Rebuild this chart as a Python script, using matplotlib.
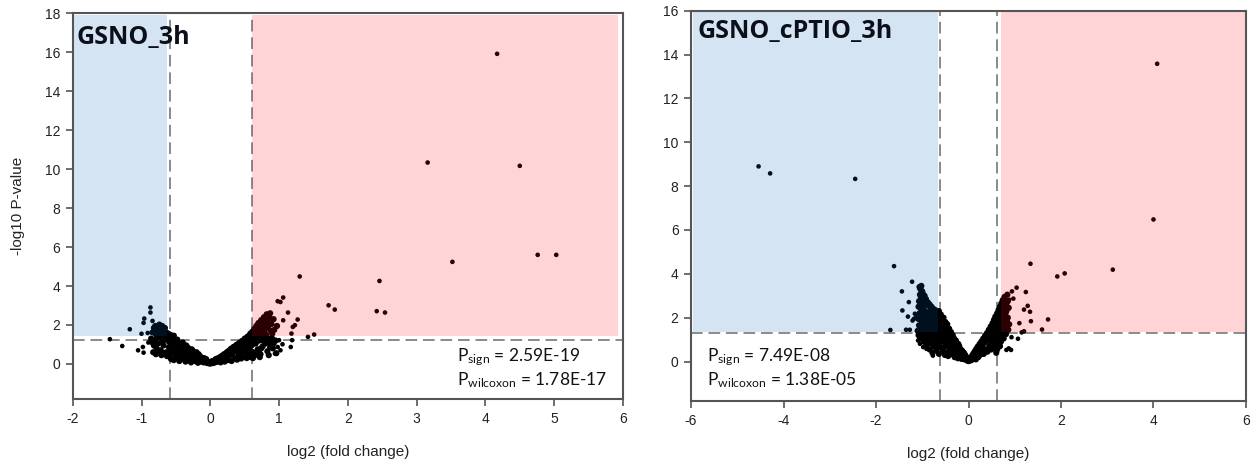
import numpy as np
import matplotlib
matplotlib.use("Agg")
import matplotlib.pyplot as plt
from matplotlib.patches import Rectangle

plt.rcParams['font.family'] = ['Liberation Sans', 'DejaVu Sans']
plt.rcParams['axes.unicode_minus'] = False
plt.rcParams['mathtext.fontset'] = 'custom'
plt.rcParams['mathtext.rm'] = 'Lato'
plt.rcParams['mathtext.it'] = 'Lato:italic'

# ---- GSNO_3h : (log2 fold change, -log10 p) ----
gsno_far = np.array([
    (4.17, 15.92), (3.16, 10.34), (4.50, 10.17), (4.76, 5.60), (5.03, 5.60),
    (3.52, 5.24), (2.46, 4.26), (1.30, 4.49), (1.72, 3.01), (1.81, 2.79),
    (2.42, 2.71), (2.54, 2.64), (1.42, 1.39), (1.51, 1.51), (1.06, 3.41),
    (0.98, 3.22), (1.02, 3.18), (1.13, 2.64), (1.06, 2.24), (1.27, 2.28),
    (1.23, 1.99), (1.20, 1.90), (1.18, 1.56), (1.19, 1.22), (1.00, 1.22),
    (0.98, 0.87), (1.05, 1.01), (1.17, 0.87), (0.94, 0.53), (1.02, 0.70),
    (-1.46, 1.27), (-1.28, 0.92), (-1.17, 1.78), (-0.87, 2.90), (-0.87, 2.64),
    (-0.96, 2.33), (-0.97, 2.11), (-0.84, 2.21), (-1.00, 1.55), (-0.91, 1.59),
    (-1.05, 0.70), (-0.98, 0.87), (-0.97, 0.58), (-0.90, 1.10),
])

gsno_core = np.array([
    (-0.84, 1.62), (-0.82, 1.85), (-0.80, 1.95), (-0.78, 1.72), (-0.76, 1.88),
    (-0.74, 2.02), (-0.72, 1.80), (-0.70, 1.95), (-0.68, 1.70), (-0.66, 1.85),
    (-0.64, 1.62), (-0.79, 1.52), (-0.75, 1.55), (-0.71, 1.60), (-0.67, 1.52),
    (-0.86, 1.30), (-0.84, 1.10), (-0.82, 0.95), (-0.80, 1.25), (-0.78, 0.80),
    (-0.76, 1.05), (-0.74, 1.35), (-0.72, 0.70), (-0.70, 1.15), (-0.68, 0.95),
    (-0.66, 1.40), (-0.64, 0.60), (-0.62, 1.20), (-0.60, 0.85), (-0.83, 0.60),
    (-0.79, 0.50), (-0.75, 0.62), (-0.71, 0.45), (-0.67, 0.55), (-0.63, 0.40),
    (-0.61, 1.55), (-0.58, 1.50), (-0.58, 0.35), (-0.56, 1.05), (-0.55, 1.35),
    (-0.54, 0.70), (-0.52, 1.20), (-0.50, 0.45), (-0.50, 0.90), (-0.48, 1.25),
    (-0.47, 0.30), (-0.46, 0.70), (-0.44, 1.05), (-0.42, 0.50), (-0.41, 0.85),
    (-0.40, 1.10), (-0.38, 0.25), (-0.37, 0.65), (-0.35, 0.95), (-0.34, 0.40),
    (-0.32, 0.80), (-0.30, 0.20), (-0.29, 0.55), (-0.27, 0.75), (-0.25, 0.35),
    (-0.24, 0.60), (-0.22, 0.15), (-0.20, 0.45), (-0.19, 0.30), (-0.17, 0.50),
    (-0.15, 0.12), (-0.14, 0.35), (-0.12, 0.25), (-0.10, 0.08), (-0.09, 0.30),
    (-0.07, 0.18), (-0.05, 0.05), (-0.04, 0.12), (-0.02, 0.03), (-0.60, 0.50),
    (-0.57, 0.25), (-0.53, 0.20), (-0.45, 0.15), (-0.40, 0.40), (-0.36, 0.12),
    (-0.28, 0.08), (-0.18, 0.06), (-0.33, 0.60), (-0.43, 0.95), (-0.53, 1.45),
    (-0.57, 0.85), (-0.49, 0.60),
    (-0.62, 1.45), (-0.60, 1.30), (-0.59, 1.10), (-0.57, 0.60), (-0.55, 0.95),
    (-0.53, 1.05), (-0.51, 0.75), (-0.49, 1.10), (-0.47, 0.95), (-0.46, 0.50),
    (-0.44, 0.80), (-0.43, 0.35), (-0.42, 0.70), (-0.40, 0.95), (-0.39, 0.55),
    (-0.38, 0.85), (-0.36, 0.70), (-0.35, 0.30), (-0.33, 0.85), (-0.31, 0.50),
    (-0.30, 0.70), (-0.28, 0.35), (-0.27, 0.55), (-0.26, 0.70), (-0.24, 0.25),
    (-0.23, 0.50), (-0.21, 0.35), (-0.20, 0.60), (-0.18, 0.45), (-0.16, 0.25),
    (-0.15, 0.40), (-0.13, 0.15), (-0.11, 0.20), (-0.08, 0.15), (-0.06, 0.25),
    (-0.03, 0.08),
    (0.00, 0.02), (0.01, 0.08), (0.03, 0.15), (0.06, 0.10), (0.08, 0.25),
    (0.11, 0.20), (0.13, 0.30), (0.16, 0.25), (0.19, 0.38), (0.22, 0.25),
    (0.25, 0.45), (0.29, 0.60), (0.33, 0.70), (0.37, 0.80), (0.43, 0.85),
    (0.49, 0.95), (0.53, 1.20), (0.56, 1.35), (0.60, 1.40), (0.64, 1.55),
    (0.68, 1.25), (0.71, 0.55), (0.74, 0.80), (0.77, 1.20), (0.81, 1.50),
    (0.84, 1.10), (0.87, 0.85), (0.90, 1.30), (0.92, 1.05), (0.69, 2.00),
    (0.75, 2.15), (0.80, 2.35), (0.84, 2.45), (0.77, 1.80), (0.72, 1.55),
    (0.66, 1.35), (0.63, 1.05), (0.58, 0.70), (0.55, 1.10),
    (0.02, 0.04), (0.04, 0.12), (0.05, 0.05), (0.07, 0.20), (0.09, 0.10),
    (0.10, 0.28), (0.12, 0.15), (0.14, 0.35), (0.15, 0.08), (0.17, 0.42),
    (0.18, 0.22), (0.20, 0.50), (0.21, 0.12), (0.23, 0.35), (0.24, 0.60),
    (0.26, 0.20), (0.27, 0.68), (0.28, 0.45), (0.30, 0.78), (0.31, 0.15),
    (0.32, 0.55), (0.34, 0.88), (0.35, 0.30), (0.36, 0.65), (0.38, 0.98),
    (0.39, 0.22), (0.40, 0.75), (0.41, 0.45), (0.42, 1.08), (0.44, 0.60),
    (0.45, 0.28), (0.46, 1.18), (0.47, 0.85), (0.48, 0.40), (0.50, 1.30),
    (0.51, 0.65), (0.52, 1.00), (0.53, 0.30), (0.54, 1.40), (0.55, 0.80),
    (0.56, 0.50), (0.57, 1.15), (0.58, 1.55), (0.59, 0.35), (0.60, 0.95),
    (0.61, 1.65), (0.62, 0.60), (0.63, 1.30), (0.64, 1.80), (0.65, 0.45),
    (0.66, 1.05), (0.67, 1.95), (0.68, 1.50), (0.69, 0.75), (0.70, 2.10),
    (0.71, 1.20), (0.72, 1.75), (0.73, 0.50), (0.74, 2.25), (0.75, 1.40),
    (0.76, 0.90), (0.77, 2.00), (0.78, 2.40), (0.79, 1.60), (0.80, 1.05),
    (0.81, 2.20), (0.82, 2.55), (0.83, 0.65), (0.84, 1.85), (0.85, 1.30),
    (0.86, 2.35), (0.87, 2.60), (0.88, 1.00), (0.89, 2.05), (0.90, 1.55),
    (0.91, 0.80), (0.92, 2.30), (0.93, 1.75), (0.95, 1.20), (0.96, 0.55),
    (0.97, 1.95), (0.66, 1.65), (0.70, 1.40), (0.73, 1.90), (0.76, 1.65),
    (0.80, 1.85), (0.83, 2.10), (0.78, 1.25), (0.62, 0.30), (0.72, 0.35),
    (0.85, 0.45), (0.88, 1.70),
])

# ---- GSNO_cPTIO_3h ----
cptio_far = np.array([
    (-4.54, 8.90), (-4.29, 8.58), (-2.45, 8.33), (4.08, 13.58), (4.00, 6.48),
    (3.12, 4.19), (1.92, 3.88), (2.08, 4.02), (1.34, 4.46), (1.72, 1.92),
    (1.59, 1.46), (-1.61, 4.35), (-1.22, 3.64), (-1.44, 3.20), (-1.29, 2.71),
    (-1.43, 2.33), (-1.31, 2.05), (-1.18, 1.95), (-1.69, 1.44), (-1.35, 1.45),
    (-1.27, 1.45), (-1.16, 2.18), (-1.13, 2.02), (-1.21, 1.87),
    (0.94, 3.20), (1.04, 3.37), (1.24, 3.17), (0.88, 2.82), (0.97, 2.87),
    (1.28, 2.54), (1.20, 2.37), (1.33, 2.27), (1.35, 1.84), (1.10, 1.75),
    (0.93, 1.11), (1.07, 1.04), (1.20, 1.38), (1.15, 1.33), (0.92, 0.53),
    (0.82, 0.53), (0.87, 0.60),
    (-1.09, 0.96), (-1.05, 0.81), (-0.98, 0.66), (-0.91, 0.58), (-0.77, 0.27),
])

cptio_core = np.array([
    (-1.06, 3.40), (-1.04, 3.30), (-1.02, 3.45), (-1.00, 3.20), (-1.05, 3.05),
    (-1.03, 2.90), (-0.99, 3.10), (-1.07, 2.75), (-1.01, 2.70), (-0.97, 2.95),
    (-0.95, 3.00), (-1.08, 2.50), (-1.04, 2.45), (-0.98, 2.55), (-0.94, 2.75),
    (-0.92, 2.85), (-1.06, 2.20), (-1.02, 2.25), (-0.96, 2.35), (-0.90, 2.60),
    (-0.88, 2.70), (-1.09, 1.95), (-1.04, 1.90), (-0.99, 2.05), (-0.93, 2.20),
    (-0.86, 2.55), (-0.84, 2.60), (-1.07, 1.65), (-1.01, 1.70), (-0.95, 1.85),
    (-0.89, 2.00), (-0.82, 2.45), (-0.80, 2.50), (-1.10, 1.40), (-1.03, 1.45),
    (-0.97, 1.55), (-0.91, 1.65), (-0.85, 1.80), (-0.78, 2.30), (-0.76, 2.40),
    (-0.87, 2.25), (-0.81, 1.95), (-0.74, 2.20), (-0.72, 2.35), (-0.92, 1.40),
    (-0.86, 1.45), (-0.79, 1.60), (-0.75, 1.75), (-0.70, 2.10), (-0.68, 2.25),
    (-0.83, 2.10), (-0.77, 1.95), (-0.71, 1.85), (-0.66, 2.15), (-0.64, 2.30),
    (-0.80, 1.35), (-0.73, 1.45), (-0.69, 1.60), (-0.65, 1.80), (-0.63, 1.95),
    (-0.67, 1.40), (-0.62, 1.55),
    (-1.08, 1.20), (-1.04, 1.05), (-1.00, 1.25), (-0.96, 0.90), (-0.94, 1.15),
    (-0.90, 0.75), (-0.88, 1.00), (-0.86, 1.25), (-0.84, 0.55), (-0.82, 0.85),
    (-0.80, 1.10), (-0.78, 0.40), (-0.76, 0.70), (-0.74, 0.95), (-0.72, 1.20),
    (-0.70, 0.50), (-0.68, 0.80), (-0.66, 1.05), (-0.64, 0.35), (-0.62, 0.65),
    (-0.60, 1.25), (-0.60, 2.15), (-0.58, 0.90), (-0.58, 1.85), (-0.56, 0.45),
    (-0.55, 1.55), (-0.54, 2.00), (-0.52, 1.15), (-0.51, 0.30), (-0.50, 1.80),
    (-0.49, 0.70), (-0.48, 1.45), (-0.46, 1.70), (-0.45, 0.95), (-0.44, 0.25),
    (-0.42, 1.50), (-0.41, 0.60), (-0.40, 1.20), (-0.38, 1.35), (-0.37, 0.35),
    (-0.36, 0.90), (-0.34, 1.20), (-0.33, 0.55), (-0.31, 1.05), (-0.30, 0.20),
    (-0.29, 0.75), (-0.27, 0.95), (-0.26, 0.40), (-0.24, 0.80), (-0.23, 0.15),
    (-0.21, 0.60), (-0.20, 0.70), (-0.18, 0.30), (-0.17, 0.55), (-0.15, 0.12),
    (-0.14, 0.45), (-0.12, 0.30), (-0.11, 0.40), (-0.09, 0.10), (-0.08, 0.25),
    (-0.06, 0.15), (-0.05, 0.20), (-0.03, 0.05), (-0.02, 0.10), (-0.70, 1.30),
    (-0.64, 1.15), (-0.56, 1.20), (-0.53, 0.65), (-0.47, 0.40), (-0.39, 0.80),
    (-0.35, 0.50),
    (-1.05, 1.55), (-1.00, 1.85), (-0.95, 1.40), (-0.90, 1.25), (-0.88, 1.55),
    (-0.84, 1.95), (-0.82, 1.20), (-0.78, 1.05), (-0.76, 1.45), (-0.72, 1.65),
    (-0.70, 0.95), (-0.68, 1.90), (-0.66, 0.65), (-0.63, 1.70), (-0.61, 0.95),
    (-0.59, 1.55), (-0.57, 1.10), (-0.56, 1.95), (-0.54, 1.35), (-0.52, 0.90),
    (-0.51, 1.60), (-0.49, 1.20), (-0.47, 1.00), (-0.46, 1.45), (-0.44, 0.75),
    (-0.43, 1.30), (-0.41, 1.05), (-0.39, 0.55), (-0.38, 1.10), (-0.36, 0.70),
    (-0.35, 0.95), (-0.33, 0.85), (-0.32, 0.35), (-0.30, 0.95), (-0.28, 0.55),
    (-0.27, 0.70), (-0.25, 0.60), (-0.24, 0.35), (-0.22, 0.80), (-0.21, 0.45),
    (-0.19, 0.55), (-0.17, 0.40), (-0.16, 0.25), (-0.14, 0.50), (-0.13, 0.20),
    (-0.11, 0.30), (-0.10, 0.40), (-0.07, 0.30), (-0.06, 0.10), (-0.04, 0.15),
    (0.00, 0.02), (0.02, 0.06), (0.04, 0.10), (0.07, 0.15), (0.09, 0.20),
    (0.12, 0.30), (0.15, 0.35), (0.19, 0.50), (0.23, 0.60), (0.27, 0.75),
    (0.31, 0.85), (0.35, 1.00), (0.39, 1.10), (0.43, 1.25), (0.47, 1.35),
    (0.50, 1.50), (0.53, 1.60), (0.56, 1.25), (0.59, 1.85), (0.62, 1.55),
    (0.64, 1.85), (0.67, 2.20), (0.70, 2.35), (0.72, 1.80), (0.75, 2.55),
    (0.77, 2.00), (0.80, 1.80), (0.82, 2.30), (0.85, 2.75), (0.78, 1.40),
    (0.73, 1.10), (0.69, 1.35), (0.65, 1.10), (0.58, 0.70), (0.55, 0.95),
    (0.48, 0.80), (0.44, 0.95),
    (0.01, 0.03), (0.03, 0.10), (0.05, 0.18), (0.06, 0.06), (0.08, 0.28),
    (0.10, 0.15), (0.11, 0.38), (0.13, 0.22), (0.14, 0.48), (0.16, 0.10),
    (0.17, 0.58), (0.18, 0.32), (0.20, 0.68), (0.21, 0.20), (0.22, 0.45),
    (0.24, 0.80), (0.25, 0.30), (0.26, 0.60), (0.28, 0.92), (0.29, 0.40),
    (0.30, 0.72), (0.32, 1.05), (0.33, 0.35), (0.34, 0.85), (0.36, 1.18),
    (0.37, 0.55), (0.38, 0.95), (0.40, 1.30), (0.41, 0.45), (0.42, 1.05),
    (0.44, 1.45), (0.45, 0.70), (0.46, 1.20), (0.48, 1.60), (0.49, 0.55),
    (0.50, 1.00), (0.51, 1.40), (0.52, 1.75), (0.53, 0.75), (0.54, 1.25),
    (0.55, 1.90), (0.56, 0.60), (0.57, 1.55), (0.58, 2.05), (0.59, 1.05),
    (0.60, 0.80), (0.61, 1.75), (0.62, 2.20), (0.63, 1.35), (0.64, 0.95),
    (0.65, 2.35), (0.66, 1.60), (0.67, 1.15), (0.68, 2.50), (0.69, 1.90),
    (0.70, 0.90), (0.71, 2.65), (0.72, 2.10), (0.73, 1.40), (0.74, 2.80),
    (0.75, 1.75), (0.76, 1.05), (0.77, 2.40), (0.78, 2.95), (0.79, 1.55),
    (0.80, 2.20), (0.81, 1.25), (0.82, 2.65), (0.83, 1.85), (0.84, 3.05),
    (0.85, 2.00), (0.86, 1.45), (0.87, 2.45), (0.88, 1.70), (0.70, 1.60),
    (0.74, 1.25), (0.66, 2.05), (0.79, 2.60), (0.62, 0.55), (0.68, 0.70),
    (0.60, 0.40),
])

panels = [
    dict(name="GSNO_3h", far=gsno_far, core=gsno_core,
         xlim=(-2, 6), ylim=(-1.8, 18), xticks=np.arange(-2, 7, 1), yticks=np.arange(0, 19, 2),
         vcut=(-0.58, 0.60), hcut=1.22, blue=(-2.0, -0.63), red=(0.61, 5.93), shade=(1.42, 17.9),
         title_xy=(-1.94, 16.45), p_xy=(3.58, 0.15, -1.09),
         p_sign="2.59E-19", p_wil="1.78E-17",
         rect=[0.0579, 0.1456, 0.4381, 0.8259], ylabel=True),
    dict(name="GSNO_cPTIO_3h", far=cptio_far, core=cptio_core,
         xlim=(-6, 6), ylim=(-1.8, 16), xticks=np.arange(-6, 7, 2), yticks=np.arange(0, 17, 2),
         vcut=(-0.61, 0.62), hcut=1.31, blue=(-5.96, -0.66), red=(0.71, 6.0), shade=(1.37, 16.0),
         title_xy=(-5.87, 14.76), p_xy=(-5.65, 0.0, -1.10),
         p_sign="7.49E-08", p_wil="1.38E-05",
         rect=[0.5502, 0.1413, 0.4418, 0.8358], ylabel=False),
]

fig = plt.figure(figsize=(12.56, 4.67), dpi=100)

for p in panels:
    ax = fig.add_axes(p["rect"])
    ax.set_xlim(*p["xlim"])
    ax.set_ylim(*p["ylim"])

    # cut-off lines sit behind the points
    for xv in p["vcut"]:
        ax.axvline(xv, color="#8a8a8a", lw=1.4, ls=(0, (6, 3)), zorder=1)
    ax.axhline(p["hcut"], color="#8a8a8a", lw=1.4, ls=(0, (6, 3)), zorder=1)

    # points under the translucent shading so they pick up its tint
    ax.scatter(p["core"][:, 0], p["core"][:, 1], s=20, c="black", edgecolors="none", zorder=2)
    ax.scatter(p["far"][:, 0], p["far"][:, 1], s=11, c="black", edgecolors="none", zorder=2)

    y0, y1 = p["shade"]
    b0, b1 = p["blue"]
    r0, r1 = p["red"]
    ax.add_patch(Rectangle((b0, y0), b1 - b0, y1 - y0, fc=(0.0, 0.38, 0.72), alpha=0.17, lw=0, zorder=3))
    ax.add_patch(Rectangle((r0, y0), r1 - r0, y1 - y0, fc=(1.0, 0.0, 0.05), alpha=0.17, lw=0, zorder=3))

    ax.text(p["title_xy"][0], p["title_xy"][1], p["name"], fontsize=18, fontweight="bold",
            family=["Open Sans", "DejaVu Sans"], color="#0b0f1a", ha="left", va="baseline", zorder=5)

    px, py1, py2 = p["p_xy"]
    ax.text(px, py1, r"P$_{\mathrm{sign}}$ = " + p["p_sign"], fontsize=12.5,
            family=["Lato", "DejaVu Sans"], color="#111111", ha="left", va="baseline", zorder=5)
    ax.text(px, py2, r"P$_{\mathrm{wilcoxon}}$ = " + p["p_wil"], fontsize=12.5,
            family=["Lato", "DejaVu Sans"], color="#111111", ha="left", va="baseline", zorder=5)

    ax.set_xticks(p["xticks"])
    ax.set_yticks(p["yticks"])
    ax.tick_params(direction="out", length=5, width=1.2, color="#555555",
                   labelsize=10, labelcolor="#222222", pad=4)
    for sp in ax.spines.values():
        sp.set_color("#555555")
        sp.set_linewidth(1.5)
        sp.set_zorder(6)

    ax.set_xlabel("log2 (fold change)", fontsize=11, color="#222222", labelpad=14)
    if p["ylabel"]:
        ax.set_ylabel("-log10 P-value", fontsize=11, color="#222222", labelpad=14)

fig.savefig("out.png", dpi=100)
